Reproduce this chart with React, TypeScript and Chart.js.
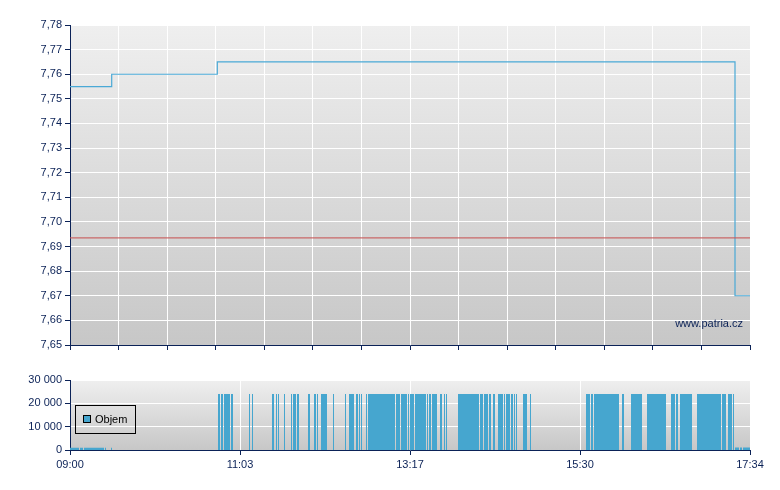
import React, { useEffect, useRef } from "react";
import { Chart, registerables } from "chart.js";

Chart.register(...registerables);

// Position axis: 0 = 09:00, 680 = 17:34 (trading-time position units)
const priceX = [0, 41.7, 147.3, 665, 680];
const priceY = [7.755, 7.76, 7.765, 7.67, 7.67];
const refPrice = 7.6935;

const priceTicks = [7.65, 7.66, 7.67, 7.68, 7.69, 7.7, 7.71, 7.72, 7.73, 7.74, 7.75, 7.76, 7.77, 7.78];
const volumeTicks = [0, 10000, 20000, 30000];
const timeLabels = ["09:00", "11:03", "13:17", "15:30", "17:34"];
const timeLabelPos = [0, 170, 340, 510, 680];

const volStart = [
  0, 10, 14, 35, 41,
  148, 151, 154, 161, 179, 182, 202, 206, 208, 214, 221, 223, 227, 238, 244, 247, 251, 263, 275, 279,
  286, 289, 291, 296, 298, 326, 331, 338, 340, 345, 357, 359, 362, 370, 374, 376, 388, 410, 414, 419,
  423, 428, 434, 436, 441, 444, 446, 453, 460, 516, 521, 524, 552, 561, 577, 601, 606, 610, 627, 652,
  658, 663, 665, 670, 673,
];
const volEnd = [
  9, 13, 34, 36, 42,
  150, 153, 160, 163, 180, 183, 204, 207, 209, 215, 222, 226, 229, 240, 246, 248, 257, 264, 276, 284,
  288, 290, 292, 297, 325, 330, 337, 339, 344, 356, 358, 361, 367, 372, 375, 377, 409, 413, 418, 421,
  425, 433, 435, 440, 443, 445, 447, 457, 461, 520, 523, 549, 554, 572, 596, 605, 608, 622, 651, 656,
  662, 664, 669, 672, 680,
];
const volValue = [
  1000, 1000, 1000, 1000, 1000,
  24000, 24000, 24000, 24000, 24000, 24000, 24000, 24000, 24000, 24000, 24000, 24000, 24000, 24000, 24000, 24000, 24000, 24000, 24000, 24000,
  24000, 24000, 24000, 24000, 24000, 24000, 24000, 24000, 24000, 24000, 24000, 24000, 24000, 24000, 24000, 24000, 24000, 24000, 24000, 24000,
  24000, 24000, 24000, 24000, 24000, 24000, 24000, 24000, 24000, 24000, 24000, 24000, 24000, 24000, 24000, 24000, 24000, 24000, 24000, 24000,
  24000, 24000, 1100, 1100, 1100,
];

const NAVY = "#0b2257";
const FONT = '"Liberation Sans", Arial, sans-serif';
const PRICE_COLOR = "#4aa9d6";
const VOL_COLOR = "#46a6cf";

const bgPlugin = {
  id: "bgGradient",
  beforeDraw(chart: any) {
    const { ctx, chartArea: a } = chart;
    const g = ctx.createLinearGradient(0, a.top, 0, a.bottom);
    g.addColorStop(0, "#efefef");
    g.addColorStop(1, "#c7c7c7");
    ctx.save();
    ctx.fillStyle = g;
    ctx.fillRect(a.left, a.top, a.right - a.left, a.bottom - a.top);
    ctx.restore();
  },
};

const watermarkPlugin = {
  id: "watermark",
  afterDraw(chart: any) {
    const { ctx, chartArea: a } = chart;
    ctx.save();
    ctx.font = `11px ${FONT}`;
    ctx.fillStyle = NAVY;
    ctx.textAlign = "right";
    ctx.textBaseline = "alphabetic";
    ctx.fillText("www.patria.cz", a.right - 7, a.bottom - 18);
    ctx.restore();
  },
};

const legendPlugin = {
  id: "boxLegend",
  afterDraw(chart: any) {
    const { ctx, chartArea: a } = chart;
    ctx.save();
    ctx.strokeStyle = "#000";
    ctx.lineWidth = 1;
    ctx.strokeRect(a.left + 5.5, a.top + 25.5, 60, 28);
    ctx.fillStyle = VOL_COLOR;
    ctx.fillRect(a.left + 13.5, a.top + 35.5, 7, 7);
    ctx.strokeRect(a.left + 13.5, a.top + 35.5, 7, 7);
    ctx.font = `11px ${FONT}`;
    ctx.fillStyle = "#000";
    ctx.textAlign = "left";
    ctx.textBaseline = "middle";
    ctx.fillText("Objem", a.left + 25, a.top + 39.5);
    ctx.restore();
  },
};

function fmtPrice(v: number) {
  return v.toFixed(2).replace(".", ",");
}
function fmtVol(v: number) {
  return String(Math.round(v)).replace(/\B(?=(\d{3})+(?!\d))/g, " ");
}

export default function App() {
  const topRef = useRef<HTMLCanvasElement>(null);
  const botRef = useRef<HTMLCanvasElement>(null);

  useEffect(() => {
    Chart.defaults.font.family = FONT;
    Chart.defaults.font.size = 11;
    Chart.defaults.color = NAVY;

    const priceData = priceX.map((x, i) => ({ x, y: priceY[i] }));
    const refData = [
      { x: 0, y: refPrice },
      { x: 680, y: refPrice },
    ];

    const top = new Chart(topRef.current!, {
      type: "line",
      data: {
        datasets: [
          {
            data: refData,
            borderColor: "rgba(200,85,85,0.85)",
            borderWidth: 1.2,
            pointRadius: 0,
            tension: 0,
          },
          {
            data: priceData,
            borderColor: PRICE_COLOR,
            borderWidth: 1.2,
            pointRadius: 0,
            stepped: true,
          },
        ],
      },
      options: {
        animation: false,
        responsive: false,
        devicePixelRatio: 1,
        layout: { padding: { left: 0, right: 30, top: 25, bottom: 0 } },
        plugins: { legend: { display: false }, tooltip: { enabled: false } },
        scales: {
          x: {
            type: "linear",
            min: 0,
            max: 680,
            afterBuildTicks: (s: any) => {
              const t = [];
              for (let i = 0; i <= 14; i++) t.push({ value: (i * 680) / 14 });
              s.ticks = t;
            },
            afterFit: (s: any) => {
              s.height = 15;
            },
            ticks: { display: false },
            grid: { color: "#ffffff", lineWidth: 1, tickColor: NAVY, tickLength: 5, drawTicks: true },
            border: { color: NAVY, width: 1 },
          },
          y: {
            min: 7.65,
            max: 7.78,
            afterBuildTicks: (s: any) => {
              s.ticks = priceTicks.map((v) => ({ value: v }));
            },
            afterFit: (s: any) => {
              s.width = 70;
            },
            ticks: { callback: (v: any) => fmtPrice(Number(v)), padding: 3, color: NAVY },
            grid: { color: "#ffffff", lineWidth: 1, tickColor: NAVY, tickLength: 5 },
            border: { color: NAVY, width: 1 },
          },
        },
      },
      plugins: [bgPlugin, watermarkPlugin],
    });

    const volData: { x: number; y: number }[] = [{ x: 0, y: 0 }];
    volStart.forEach((s, i) => {
      volData.push({ x: s, y: volValue[i] });
      volData.push({ x: volEnd[i], y: 0 });
    });

    const bot = new Chart(botRef.current!, {
      type: "line",
      data: {
        datasets: [
          {
            data: volData,
            borderColor: VOL_COLOR,
            borderWidth: 0,
            backgroundColor: VOL_COLOR,
            fill: "origin",
            pointRadius: 0,
            stepped: true,
          },
        ],
      },
      options: {
        animation: false,
        responsive: false,
        devicePixelRatio: 1,
        layout: { padding: { left: 0, right: 30, top: 20, bottom: 0 } },
        plugins: { legend: { display: false }, tooltip: { enabled: false } },
        scales: {
          x: {
            type: "linear",
            min: 0,
            max: 680,
            afterBuildTicks: (s: any) => {
              s.ticks = timeLabelPos.map((v) => ({ value: v }));
            },
            afterFit: (s: any) => {
              s.height = 40;
            },
            ticks: {
              callback: (v: any) => {
                const i = timeLabelPos.indexOf(Number(v));
                return i >= 0 ? timeLabels[i] : "";
              },
              padding: 3,
              maxRotation: 0,
              color: NAVY,
              autoSkip: false,
            },
            grid: { color: "#ffffff", lineWidth: 1, tickColor: NAVY, tickLength: 5 },
            border: { color: NAVY, width: 1 },
          },
          y: {
            min: 0,
            max: 30000,
            afterBuildTicks: (s: any) => {
              s.ticks = volumeTicks.map((v) => ({ value: v }));
            },
            afterFit: (s: any) => {
              s.width = 70;
            },
            ticks: { callback: (v: any) => fmtVol(Number(v)), padding: 3, color: NAVY },
            grid: { color: "#ffffff", lineWidth: 1, tickColor: NAVY, tickLength: 5 },
            border: { color: NAVY, width: 1 },
          },
        },
      },
      plugins: [bgPlugin, legendPlugin],
    });

    return () => {
      top.destroy();
      bot.destroy();
    };
  }, []);

  return (
    <div style={{ position: "fixed", left: 0, top: 0, width: 780, height: 490, background: "#fff" }}>
      <canvas ref={topRef} width={780} height={360} style={{ position: "absolute", left: 0, top: 0 }} />
      <canvas ref={botRef} width={780} height={130} style={{ position: "absolute", left: 0, top: 360 }} />
    </div>
  );
}
